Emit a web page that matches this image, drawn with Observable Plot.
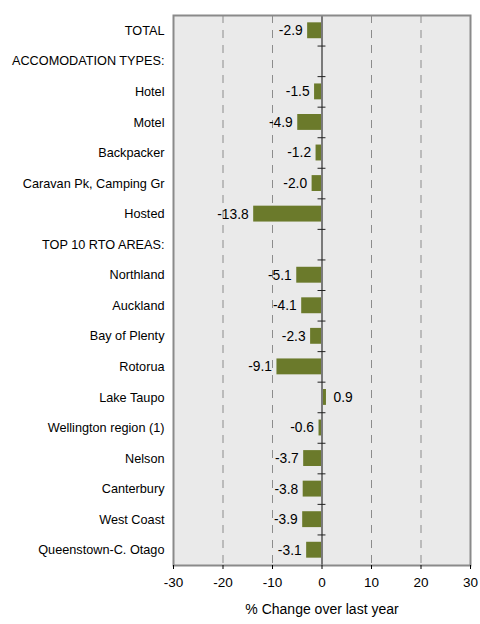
<!DOCTYPE html>
<html>
<head>
<meta charset="utf-8">
<script src="https://cdn.jsdelivr.net/npm/d3@7"></script>
<script src="https://cdn.jsdelivr.net/npm/@observablehq/plot@0.6"></script>
<style>
  html, body { margin: 0; padding: 0; background: #fff; }
  #chart svg { display: block; }
</style>
</head>
<body>
<div id="chart"></div>
<script>
const categories = [
  "TOTAL", "ACCOMODATION TYPES:", "Hotel", "Motel", "Backpacker",
  "Caravan Pk, Camping Gr", "Hosted", "TOP 10 RTO AREAS:", "Northland",
  "Auckland", "Bay of Plenty", "Rotorua", "Lake Taupo",
  "Wellington region (1)", "Nelson", "Canterbury", "West Coast",
  "Queenstown-C. Otago"
];
const values = [
  -2.9, null, -1.5, -4.9, -1.2, -2.0, -13.8, null, -5.1,
  -4.1, -2.3, -9.1, 0.9, -0.6, -3.7, -3.8, -3.9, -3.1
];
const xTicks = [-30, -20, -10, 0, 10, 20, 30];
const gridTicks = [-20, -10, 10, 20];
const xLabel = "% Change over last year";

const rows = categories.map((c, i) => ({i, label: c, value: values[i]}));
const bars = rows.filter(d => d.value != null);
const negBars = bars.filter(d => d.value < 0);
const posBars = bars.filter(d => d.value >= 0);
const bounds = d3.range(categories.length + 1).map(k => k - 0.5);

const font = "'Liberation Sans', Arial, sans-serif";

const chart = Plot.plot({
  width: 480,
  height: 624,
  marginLeft: 173,
  marginRight: 10,
  marginTop: 15,
  marginBottom: 59,
  style: {fontFamily: font, fontSize: "12.7px", color: "#000", background: "#fff"},
  x: {domain: [-30, 30], ticks: xTicks, tickFormat: d => String(d), tickSize: 4, tickPadding: 8, label: null},
  y: {domain: [categories.length - 0.5, -0.5], ticks: d3.range(categories.length),
      tickFormat: i => categories[i], tickSize: 0, tickPadding: 9, label: null},
  marks: [
    Plot.frame({fill: "#eaeaea"}),
    Plot.ruleX(gridTicks, {stroke: "#8c8c8c", strokeWidth: 1, strokeDasharray: "8,7"}),
    Plot.rectX(bars, {y1: d => d.i - 0.26, y2: d => d.i + 0.26, x1: 0, x2: "value", fill: "#6b7a2b"}),
    Plot.ruleX([0], {stroke: "#7a7a7a", strokeWidth: 2}),
    Plot.ruleY(bounds, {x1: -0.8, x2: 0.8, stroke: "#222", strokeWidth: 1}),
    Plot.text(negBars, {x: "value", y: "i", text: d => d.value.toFixed(1),
      textAnchor: "end", dx: -5, fontSize: 13.8, fill: "#000"}),
    Plot.text(posBars, {x: "value", y: "i", text: d => d.value.toFixed(1),
      textAnchor: "start", dx: 7, fontSize: 13.8, fill: "#000"}),
    Plot.frame({stroke: "#8a8a8a", strokeWidth: 2}),
    Plot.axisX({ticks: xTicks, tickFormat: d => String(d), tickSize: 4, tickPadding: 8, fontSize: 13.5, label: null}),
    Plot.text([xLabel], {frameAnchor: "bottom", dy: 48, fontSize: 14, fill: "#000"})
  ]
});
document.getElementById("chart").appendChild(chart);
</script>
</body>
</html>
